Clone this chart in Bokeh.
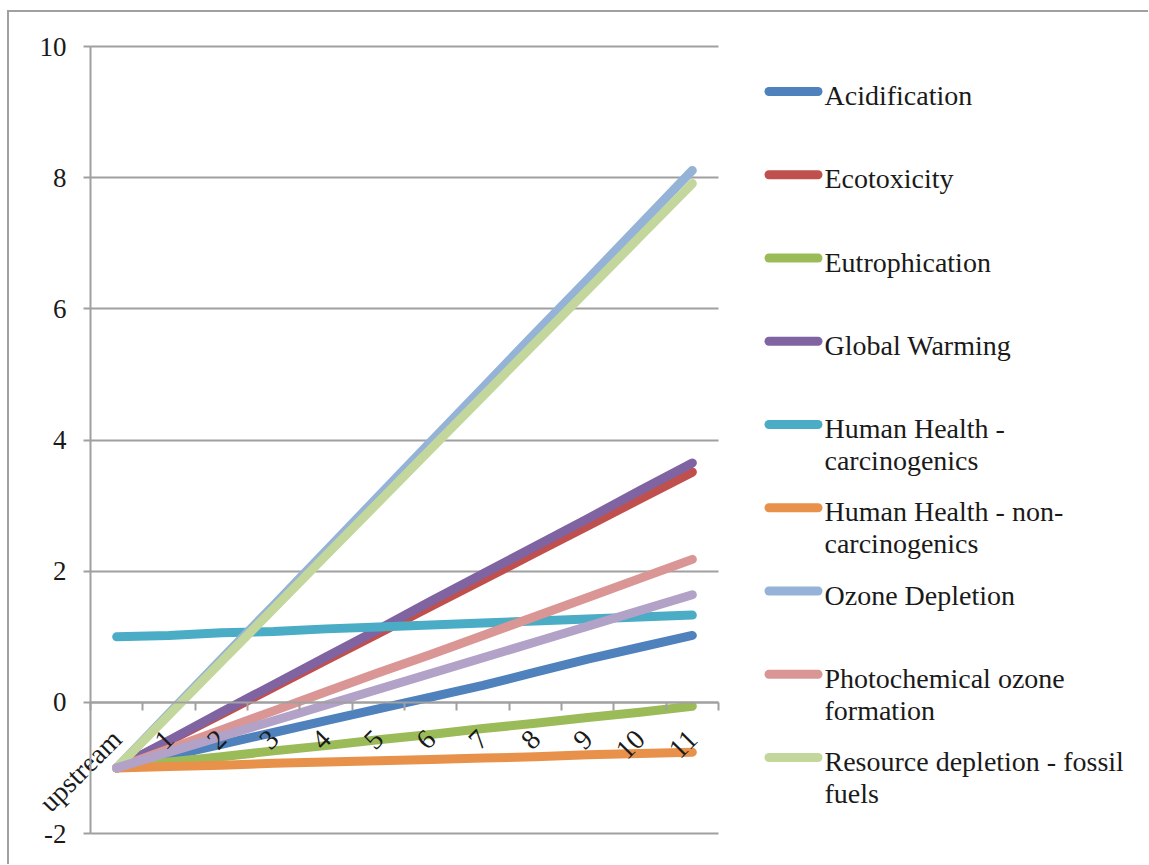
import math

from bokeh.embed import file_html
from bokeh.resources import INLINE
from bokeh.plotting import figure
from bokeh.layouts import row
from bokeh.models import Range1d, LinearAxis, FixedTicker, ColumnDataSource, BoxAnnotation
from bokeh.core.properties import value

# ---- data -----------------------------------------------------------------
categories = ["upstream", "1", "2", "3", "4", "5", "6", "7", "8", "9", "10", "11"]

acidification = [-1.00, -0.82, -0.64, -0.46, -0.28, -0.10, 0.08, 0.26, 0.46, 0.66, 0.84, 1.02]
ecotoxicity = [-1.00, -0.59, -0.18, 0.23, 0.64, 1.05, 1.46, 1.87, 2.28, 2.69, 3.10, 3.51]
eutrophication = [-1.00, -0.91, -0.83, -0.74, -0.66, -0.57, -0.49, -0.40, -0.32, -0.23, -0.15, -0.06]
global_warming = [-1.00, -0.58, -0.15, 0.27, 0.69, 1.11, 1.54, 1.96, 2.38, 2.80, 3.23, 3.65]
hh_carcinogenics = [1.00, 1.02, 1.06, 1.08, 1.12, 1.15, 1.18, 1.21, 1.24, 1.27, 1.30, 1.33]
hh_non_carcinogenics = [-1.00, -0.98, -0.96, -0.93, -0.91, -0.89, -0.87, -0.85, -0.83, -0.80, -0.78, -0.76]
ozone_depletion = [-1.00, -0.17, 0.66, 1.48, 2.31, 3.14, 3.97, 4.80, 5.63, 6.45, 7.28, 8.11]
photochemical_ozone = [-1.00, -0.71, -0.42, -0.13, 0.16, 0.45, 0.73, 1.02, 1.31, 1.60, 1.89, 2.18]
resource_depletion = [-1.00, -0.19, 0.62, 1.43, 2.24, 3.05, 3.86, 4.67, 5.48, 6.29, 7.10, 7.91]
tenth_series = [-1.00, -0.76, -0.52, -0.28, -0.04, 0.20, 0.44, 0.68, 0.92, 1.16, 1.40, 1.64]

y_ticks = [-2, 0, 2, 4, 6, 8, 10]

series = [
    ("Acidification", acidification, "#4f81bd"),
    ("Ecotoxicity", ecotoxicity, "#c0504d"),
    ("Eutrophication", eutrophication, "#9bbb59"),
    ("Global Warming", global_warming, "#8064a2"),
    ("Human Health -\ncarcinogenics", hh_carcinogenics, "#4bacc6"),
    ("Human Health - non-\ncarcinogenics", hh_non_carcinogenics, "#e8914a"),
    ("Ozone Depletion", ozone_depletion, "#95b3d7"),
    ("Photochemical ozone\nformation", photochemical_ozone, "#d99694"),
    ("Resource depletion - fossil\nfuels", resource_depletion, "#c3d69b"),
    (None, tenth_series, "#b3a2c7"),
]

FONT = "Liberation Serif"
GRAY = "#a0a0a0"
INK = "#1a1a1a"
LINE_W = 9

# category slots: each category sits in the middle of a unit-wide slot
n = len(categories)
slot_centres = [i + 0.5 for i in range(n)]
slot_edges = list(range(n + 1))

# ---- chart ----------------------------------------------------------------
# The frame covers the whole canvas so that axis labels outside the
# value/category box are not clipped; the box itself is set by padding.
PLOT_W, PLOT_H = 711, 852
PAD_L, PAD_R, PAD_T, PAD_B = 81, 2, 34, 31
y_lo, y_hi = min(y_ticks), max(y_ticks)
slot_px = (PLOT_W - PAD_L - PAD_R) / n
unit_px = (PLOT_H - PAD_T - PAD_B) / (y_hi - y_lo)

p = figure(width=PLOT_W, height=PLOT_H,
           x_range=Range1d(-PAD_L / slot_px, n + PAD_R / slot_px),
           y_range=Range1d(y_lo - PAD_B / unit_px, y_hi + PAD_T / unit_px),
           x_axis_location=None, y_axis_location="left",
           output_backend="svg", toolbar_location=None, min_border=0)
p.outline_line_color = None
p.xgrid.visible = False

yax = p.yaxis[0]
yax.fixed_location = 0
yax.bounds = (y_lo, y_hi)
yax.ticker = FixedTicker(ticks=y_ticks)
yax.major_label_overrides = {t: str(t) for t in y_ticks}
yax.axis_line_color = GRAY
yax.axis_line_width = 2
yax.major_tick_line_color = GRAY
yax.major_tick_line_width = 2
yax.major_tick_in = 0
yax.major_tick_out = 7
yax.minor_tick_line_color = None
yax.major_label_standoff = 17
yax.major_label_text_font = FONT
yax.major_label_text_font_size = "27px"
yax.major_label_text_color = INK

ygrid = p.ygrid[0]
ygrid.ticker = FixedTicker(ticks=y_ticks)
ygrid.grid_line_color = GRAY
ygrid.grid_line_width = 2
try:
    ygrid.cross_bounds = (0, n)
except AttributeError:
    # keep the grid out of the label margin left of the value axis
    p.add_layout(BoxAnnotation(right=0, fill_color="white", fill_alpha=1,
                               line_color=None, level="underlay"))

# category axis crossing at zero, tick marks between categories
tick_axis = LinearAxis(fixed_location=0, bounds=(0, n),
                       ticker=FixedTicker(ticks=slot_edges))
tick_axis.axis_line_color = GRAY
tick_axis.axis_line_width = 2
tick_axis.major_tick_line_color = GRAY
tick_axis.major_tick_line_width = 2
tick_axis.major_tick_in = 0
tick_axis.major_tick_out = 8
tick_axis.minor_tick_line_color = None
tick_axis.major_label_text_color = None
p.add_layout(tick_axis, "below")

# rotated category labels
label_axis = LinearAxis(fixed_location=0, ticker=FixedTicker(ticks=slot_centres),
                        major_label_overrides={c: lab for c, lab in zip(slot_centres, categories)})
label_axis.axis_line_color = None
label_axis.major_tick_line_color = None
label_axis.minor_tick_line_color = None
label_axis.major_label_orientation = math.pi / 4
label_axis.major_label_standoff = 26
label_axis.major_label_text_font = FONT
label_axis.major_label_text_font_size = "28px"
label_axis.major_label_text_color = INK
p.add_layout(label_axis, "below")

for label, values, color in series:
    p.line(slot_centres, values, line_color=color, line_width=LINE_W,
           line_cap="round", line_join="round")

# ---- legend panel (page pixel coordinates, y down) ------------------------
LEG_W = 428
LEG_X0, LEG_Y0 = 720, 12
leg = figure(width=LEG_W, height=PLOT_H,
             x_range=Range1d(LEG_X0, LEG_X0 + LEG_W),
             y_range=Range1d(LEG_Y0 + PLOT_H, LEG_Y0),
             x_axis_location=None, y_axis_location=None,
             output_backend="svg", toolbar_location=None, min_border=0)
leg.outline_line_color = None
leg.grid.visible = False

entry_top, entry_pitch, line_pitch = 91, 83.25, 32
swatch_x0, swatch_x1, text_x = 768.5, 817.5, 824

named = [(lab, col) for lab, _, col in series if lab is not None]
sw_y = [entry_top + i * entry_pitch for i in range(len(named))]
leg.segment(x0=swatch_x0, x1=swatch_x1, y0=sw_y, y1=sw_y,
            line_color=[c for _, c in named], line_width=LINE_W, line_cap="round")

txt, tx, ty = [], [], []
for (lab, _), y in zip(named, sw_y):
    for k, part in enumerate(lab.split("\n")):
        txt.append(part)
        tx.append(text_x)
        ty.append(y + 4 + k * line_pitch)
leg.text(x="x", y="y", text="t", source=ColumnDataSource(dict(x=tx, y=ty, t=txt)),
         text_font=value(FONT), text_font_size="28px", text_color=INK,
         text_baseline="middle", text_align="left")

layout = row(p, leg, margin=(10, 0, 0, 7),
             styles={"border-left": f"2px solid {GRAY}", "border-top": f"2px solid {GRAY}"})

open("out.html", "w").write(file_html(layout, INLINE))
